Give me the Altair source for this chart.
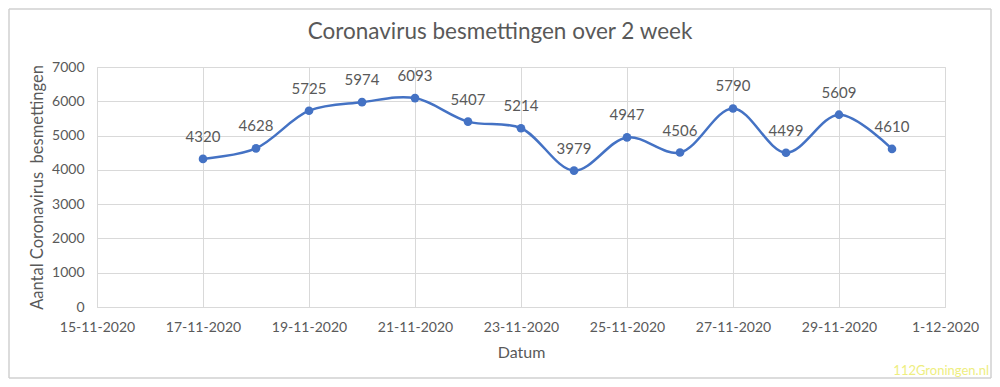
import altair as alt
import pandas as pd

dates = ["17-11-2020", "18-11-2020", "19-11-2020", "20-11-2020", "21-11-2020",
         "22-11-2020", "23-11-2020", "24-11-2020", "25-11-2020", "26-11-2020",
         "27-11-2020", "28-11-2020", "29-11-2020", "30-11-2020"]
values = [4320, 4628, 5725, 5974, 6093, 5407, 5214, 3979, 4947, 4506, 5790, 4499, 5609, 4610]
y_ticks = [0, 1000, 2000, 3000, 4000, 5000, 6000, 7000]
x_tick_days = [0, 2, 4, 6, 8, 10, 12, 14, 16]  # days after 15-11-2020
title_text = "Coronavirus besmettingen over 2 week"
watermark_text = "112Groningen.nl"

start = pd.Timestamp("2020-11-15")
day = [(pd.to_datetime(d, format="%d-%m-%Y") - start).days for d in dates]
df = pd.DataFrame({"datum": dates, "dag": day, "waarde": values})

FONT = "Lato"
GREY = "#595959"
BLUE = "#4472C4"

x = alt.X("dag:Q", scale=alt.Scale(domain=[0, 16], nice=False),
          axis=alt.Axis(values=x_tick_days, title="Datum",
                        labelExpr="datum.value <= 15 ? (datum.value + 15) + '-11-2020' : (datum.value - 15) + '-12-2020'",
                        labelOverlap=False, labelBound=False, labelFlush=False,
                        labelFont=FONT, labelFontSize=14, labelColor=GREY, labelPadding=13,
                        titleFont=FONT, titleFontSize=16, titleColor=GREY, titleFontWeight="normal",
                        titlePadding=10, tickSize=0, domainColor="#d9d9d9",
                        grid=True, gridColor="#d9d9d9"))
y = alt.Y("waarde:Q", scale=alt.Scale(domain=[0, 7000], nice=False),
          axis=alt.Axis(values=y_ticks, title="Aantal Coronavirus \u00a0besmettingen", format="d",
                        labelFont=FONT, labelFontSize=14, labelColor=GREY, labelPadding=13,
                        titleFont=FONT, titleFontSize=16.5, titleColor=GREY, titleFontWeight="normal",
                        titlePadding=6, tickSize=0, domain=False,
                        grid=True, gridColor="#d9d9d9"))

base = alt.Chart(df)
line = base.mark_line(interpolate="catmull-rom", color=BLUE, strokeWidth=2.5).encode(x=x, y=y)
pts = base.mark_point(filled=True, color=BLUE, size=75, opacity=1).encode(x=x, y=y)
labels = base.mark_text(font=FONT, fontSize=15, color=GREY, dy=-22, baseline="middle").encode(
    x=x, y=y, text="waarde:Q")

one = pd.DataFrame({"a": [0]})
BX0, BX1, BY0, BY1 = -88, 894, -58, 311
def edge(x1, x2, y1, y2):
    return alt.Chart(one).mark_rule(color="#d0d0d0", strokeWidth=1.5, clip=False).encode(
        x=alt.value(x1), x2=alt.value(x2), y=alt.value(y1), y2=alt.value(y2))
borders = [edge(BX0, BX1, BY0, BY0), edge(BX0, BX1, BY1, BY1),
           edge(BX0, BX0, BY0, BY1), edge(BX1, BX1, BY0, BY1)]

title = alt.Chart(pd.DataFrame({"t": [title_text]})).mark_text(
    font=FONT, fontSize=22.5, color=GREY, align="center", baseline="middle").encode(
    x=alt.value(403), y=alt.value(-35), text="t:N")
watermark = alt.Chart(pd.DataFrame({"t": [watermark_text]})).mark_text(
    font=FONT, fontSize=13, color="#eeee80", align="right", baseline="middle").encode(
    x=alt.value(892), y=alt.value(304), text="t:N")

chart = alt.layer(*borders, line, pts, labels, title, watermark).properties(
    width=848, height=240,
    autosize=alt.AutoSizeParams(type="none"),
    padding={"left": 89, "top": 59, "right": 47, "bottom": 72},
).configure_view(stroke=None).configure(background="white")

chart.save("out.html", embed_options={"renderer": "svg", "actions": False})
